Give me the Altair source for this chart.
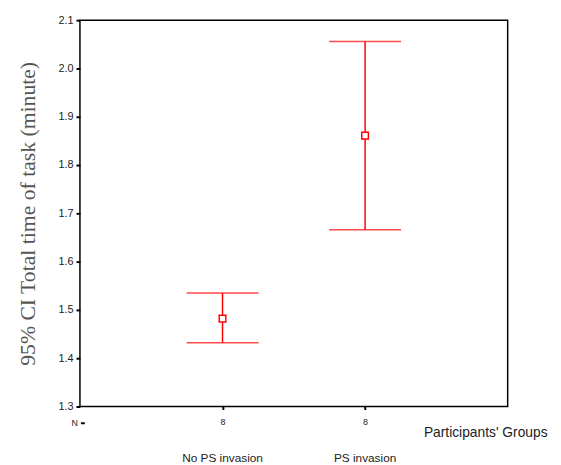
import altair as alt
import pandas as pd

groups = ["No PS invasion", "PS invasion"]
group_pos = [1, 2]
means = [1.482, 1.861]
lower = [1.432, 1.666]
upper = [1.535, 2.056]
n_counts = ["8", "8"]

df = pd.DataFrame({"group": groups, "pos": group_pos, "mean": means,
                   "lower": lower, "upper": upper, "n": n_counts})

RED = "#ff0000"
W, H = 434, 392

xscale = alt.Scale(domain=[0, 3], nice=False, zero=False)
yscale = alt.Scale(domain=[1.3, 2.1], nice=False, zero=False)

xaxis = alt.Axis(values=[1, 2], labelExpr="'8'", title=None, grid=False, domain=False,
                 tickSize=3, tickWidth=2, tickColor="black", labelFontSize=9,
                 labelFont="Liberation Sans", labelColor="#222", labelPadding=8)
yaxis = alt.Axis(values=[1.3, 1.4, 1.5, 1.6, 1.7, 1.8, 1.9, 2.0, 2.1], format=".1f",
                 title="95% CI Total time of task (minute)", grid=False, domain=False,
                 tickSize=4, tickWidth=2, tickColor="black", labelFontSize=11,
                 labelFont="Liberation Sans", labelColor="#222", labelPadding=3,
                 titleFont="Liberation Serif", titleFontSize=22, titleFontWeight="normal",
                 titleColor="#555", titlePadding=19)

base = alt.Chart(df)

bars = base.mark_rule(color=RED, strokeWidth=1.5).encode(
    x=alt.X("pos:Q", scale=xscale, axis=xaxis),
    y=alt.Y("lower:Q", scale=yscale, axis=yaxis),
    y2="upper:Q",
)
cap_lo = base.mark_tick(color=RED, orient="horizontal", size=73, thickness=1.5).encode(
    x=alt.X("pos:Q", scale=xscale), y=alt.Y("lower:Q", scale=yscale))
cap_hi = base.mark_tick(color=RED, orient="horizontal", size=73, thickness=1.5).encode(
    x=alt.X("pos:Q", scale=xscale), y=alt.Y("upper:Q", scale=yscale))
pts = base.mark_point(shape="square", filled=True, fill="white", stroke=RED,
                      strokeWidth=1.5, size=45, opacity=1).encode(
    x=alt.X("pos:Q", scale=xscale), y=alt.Y("mean:Q", scale=yscale))

glabels = base.mark_text(fontSize=12, font="Liberation Sans", color="#222",
                         baseline="middle").encode(
    x=alt.X("pos:Q", scale=xscale), y=alt.value(H + 52), text="group:N")

ann = pd.DataFrame({"t": ["Participants' Groups"]})
title_x = alt.Chart(ann).mark_text(fontSize=14, font="Liberation Sans", color="#222",
                                   align="left", baseline="middle").encode(
    x=alt.value(349), y=alt.value(H + 27), text="t:N")

nlab = alt.Chart(pd.DataFrame({"t": ["N"]})).mark_text(
    fontSize=9, font="Liberation Sans", color="#222", align="right", baseline="middle").encode(
    x=alt.value(-2), y=alt.value(H + 17), text="t:N")
ndash = alt.Chart(pd.DataFrame({"t": ["N"]})).mark_rule(color="black", strokeWidth=2).encode(
    x=alt.value(1), x2=alt.value(5), y=alt.value(H + 17))

chart = alt.layer(bars, cap_lo, cap_hi, pts, glabels, title_x, nlab, ndash).properties(
    width=W, height=H,
    background="white",
    autosize=alt.AutoSizeParams(type="none"),
    padding={"left": 73, "top": 9, "right": 46, "bottom": 56},
).configure_view(stroke="black", strokeWidth=1.5)

chart.save("out.html", embed_options={"renderer": "svg", "actions": False})
